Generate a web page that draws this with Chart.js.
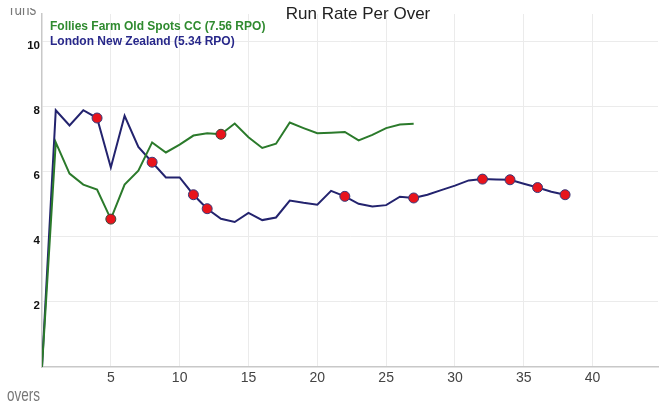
<!DOCTYPE html>
<html>
<head>
<meta charset="utf-8">
<title>Run Rate Per Over</title>
<script src="https://cdn.jsdelivr.net/npm/chart.js@4"></script>
<style>
    html, body { margin: 0; padding: 0; background: #fff; overflow: hidden; }
</style>
</head>
<body>
<canvas id="myChart" width="664" height="407"></canvas>
<script>
// chart text
var chartTitle = "Run Rate Per Over";
var teamNames = ["Follies Farm Old Spots CC", "London New Zealand"];
var teamRPO = [7.56, 5.34];

// run rate after each over (index = over number)
var folliesRate = [0, 6.91, 5.95, 5.61, 5.46, 4.55, 5.61, 6.04, 6.91, 6.6, 6.84, 7.12, 7.19, 7.16, 7.49,
    7.07, 6.74, 6.87, 7.52, 7.35, 7.19, 7.21, 7.23, 6.97, 7.14, 7.35, 7.46, 7.48];
var londonRate = [0, 7.9, 7.43, 7.9, 7.66, 6.14, 7.73, 6.77, 6.3, 5.83, 5.83, 5.3, 4.87, 4.56, 4.46,
    4.74, 4.52, 4.6, 5.12, 5.05, 4.99, 5.42, 5.25, 5.02, 4.94, 4.98, 5.24, 5.2, 5.3, 5.44, 5.58,
    5.74, 5.78, 5.77, 5.76, 5.64, 5.52, 5.39, 5.3];

// overs in which a wicket fell
var folliesWickets = [5, 13];
var londonWickets = [4, 8, 11, 12, 22, 27, 32, 34, 36, 38];

var lineColors = ["#2b7a2b", "#23236e"];
var legendColors = ["#2f8a2f", "#28288a"];

function toPoints(rates) {
    var pts = [];
    for (var i = 0; i < rates.length; i++) {
        pts.push({ x: i, y: rates[i] });
    }
    return pts;
}

function wicketRadius(wickets) {
    return function (ctx) {
        return wickets.indexOf(ctx.dataIndex) == -1 ? 0 : 5;
    };
}

var extraText = {
    id: "extraText",
    afterDraw: function (chart) {
        var ctx = chart.ctx;
        var area = chart.chartArea;
        ctx.save();

        // title
        ctx.font = '17px "Liberation Sans", Arial, sans-serif';
        ctx.fillStyle = "#222";
        ctx.textAlign = "center";
        ctx.textBaseline = "alphabetic";
        ctx.fillText(chartTitle, 358, 19);

        // legend, text only
        ctx.font = 'bold 12px "Liberation Sans", Arial, sans-serif';
        ctx.textAlign = "left";
        for (var i = 0; i < chart.data.datasets.length; i++) {
            ctx.fillStyle = legendColors[i];
            ctx.fillText(chart.data.datasets[i].label, area.left + 8, 30 + i * 15);
        }

        // axis titles
        ctx.fillStyle = "#777";
        ctx.font = '19px "Liberation Sans", Arial, sans-serif';
        ctx.save();
        ctx.translate(7, 401);
        ctx.scale(0.71, 1);
        ctx.fillText("overs", 0, 0);
        ctx.restore();

        ctx.save();
        ctx.beginPath();
        ctx.rect(0, 8, 60, 12);
        ctx.clip();
        ctx.translate(10, 15);
        ctx.scale(0.71, 1);
        ctx.fillText("runs", 0, 0);
        ctx.restore();

        ctx.restore();
    }
};

Chart.defaults.font.family = '"Liberation Sans", Arial, sans-serif';

var ctx = document.getElementById("myChart");
var myChart = new Chart(ctx, {
    type: "line",
    data: {
        datasets: [
            {
                label: teamNames[0] + " (" + teamRPO[0].toFixed(2) + " RPO)",
                data: toPoints(folliesRate),
                borderColor: lineColors[0],
                borderWidth: 2,
                pointRadius: wicketRadius(folliesWickets),
                pointHoverRadius: wicketRadius(folliesWickets),
                pointBackgroundColor: "#e8141c",
                pointBorderColor: "#3a4a3a",
                pointBorderWidth: 1,
                tension: 0,
                fill: false
            },
            {
                label: teamNames[1] + " (" + teamRPO[1].toFixed(2) + " RPO)",
                data: toPoints(londonRate),
                borderColor: lineColors[1],
                borderWidth: 2,
                pointRadius: wicketRadius(londonWickets),
                pointHoverRadius: wicketRadius(londonWickets),
                pointBackgroundColor: "#e8141c",
                pointBorderColor: "#3a3a7a",
                pointBorderWidth: 1,
                tension: 0,
                fill: false
            }
        ]
    },
    options: {
        responsive: false,
        animation: false,
        layout: { padding: { top: 14, left: 0, right: 0, bottom: 0 } },
        plugins: {
            legend: { display: false },
            title: { display: false },
            tooltip: { enabled: false }
        },
        scales: {
            x: {
                type: "linear",
                min: 0,
                max: 44.75,
                afterFit: function (scale) { scale.height = 40; },
                afterBuildTicks: function (scale) {
                    scale.ticks = scale.ticks.filter(function (t) {
                        return t.value > 0 && t.value % 5 == 0;
                    });
                },
                ticks: {
                    stepSize: 5,
                    color: "#444",
                    font: { size: 14 },
                    padding: 3,
                    maxRotation: 0
                },
                grid: { color: "#ebebeb", lineWidth: 1, drawTicks: false },
                border: { color: "#c8c8c8", width: 1.5 }
            },
            y: {
                min: 0,
                max: 10.86,
                afterFit: function (scale) { scale.width = 42; },
                afterBuildTicks: function (scale) {
                    scale.ticks = scale.ticks.filter(function (t) {
                        return t.value > 0 && t.value % 2 == 0;
                    });
                },
                ticks: {
                    stepSize: 2,
                    color: "#111",
                    font: { size: 11.5, weight: "bold" },
                    padding: 2,
                    labelOffset: 4
                },
                grid: { color: "#ebebeb", lineWidth: 1, drawTicks: false },
                border: { color: "#c8c8c8", width: 1.5 }
            }
        }
    },
    plugins: [extraText]
});
</script>
</body>
</html>
